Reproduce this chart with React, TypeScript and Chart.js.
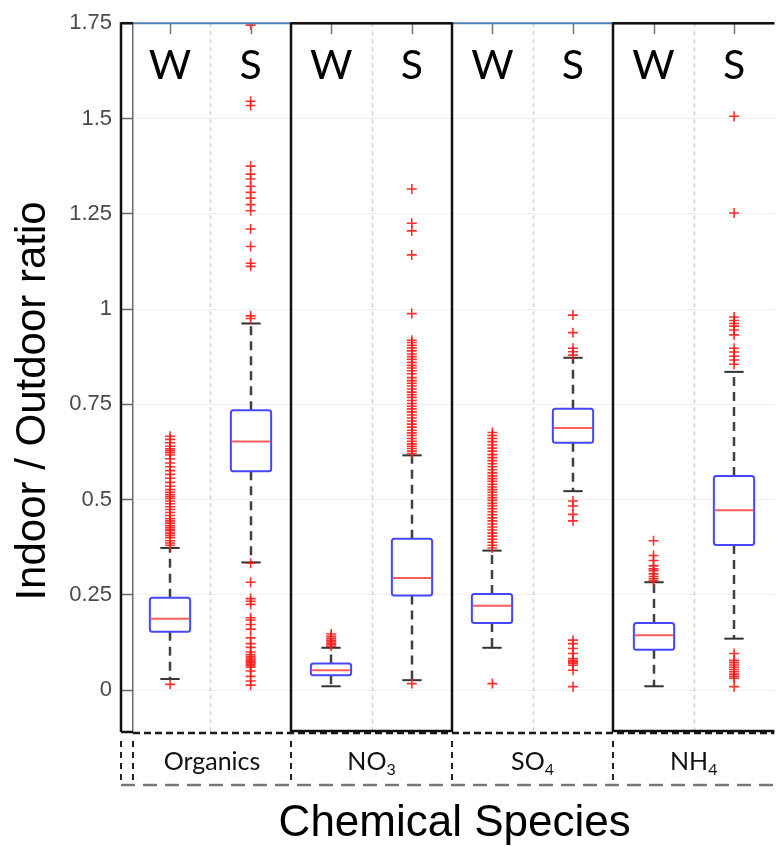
import React, { useEffect, useRef } from 'react';
import { Chart, registerables } from 'chart.js';

Chart.register(...registerables);

// ---------- data ----------
const speciesNames = ['Organics', 'NO', 'SO', 'NH'];
const speciesSubscripts = ['', '3', '4', '4'];
const seasons = ['W', 'S'];
const yTicks = [0, 0.25, 0.5, 0.75, 1, 1.25, 1.5, 1.75];

// order: Organics W, Organics S, NO3 W, NO3 S, SO4 W, SO4 S, NH4 W, NH4 S
const whiskerLow = [0.029, 0.335, 0.010, 0.026, 0.111, 0.522, 0.010, 0.135];
const q1 = [0.153, 0.574, 0.039, 0.248, 0.176, 0.649, 0.106, 0.381];
const medians = [0.187, 0.652, 0.052, 0.294, 0.221, 0.688, 0.144, 0.472];
const q3 = [0.242, 0.734, 0.070, 0.397, 0.252, 0.738, 0.176, 0.562];
const whiskerHigh = [0.373, 0.962, 0.111, 0.616, 0.366, 0.872, 0.283, 0.835];

const outOrgW = [0.015, 0.38, 0.386, 0.392, 0.4, 0.406, 0.412, 0.418, 0.422, 0.427, 0.432, 0.438, 0.444, 0.45, 0.458, 0.466, 0.474, 0.481, 0.489, 0.496, 0.503, 0.508, 0.513, 0.519, 0.526, 0.535, 0.545, 0.556, 0.566, 0.576, 0.586, 0.596, 0.607, 0.617, 0.623, 0.628, 0.633, 0.64, 0.649, 0.658, 0.666];
const outOrgS = [1.745, 1.545, 1.534, 1.375, 1.354, 1.341, 1.322, 1.306, 1.291, 1.274, 1.258, 1.21, 1.164, 1.12, 1.112, 0.982, 0.975, 0.333, 0.283, 0.24, 0.233, 0.225, 0.19, 0.184, 0.172, 0.16, 0.137, 0.122, 0.112, 0.1, 0.093, 0.088, 0.084, 0.08, 0.076, 0.072, 0.068, 0.064, 0.06, 0.05, 0.036, 0.024, 0.013];
const outNo3W = [0.115, 0.119, 0.123, 0.127, 0.131, 0.136, 0.141, 0.147];
const outNo3S = [1.315, 1.225, 1.205, 1.142, 0.988, 0.918, 0.912, 0.905, 0.898, 0.89, 0.882, 0.875, 0.868, 0.86, 0.852, 0.845, 0.838, 0.83, 0.82, 0.812, 0.805, 0.798, 0.79, 0.782, 0.775, 0.768, 0.76, 0.752, 0.745, 0.738, 0.73, 0.722, 0.714, 0.706, 0.698, 0.69, 0.682, 0.675, 0.668, 0.66, 0.653, 0.646, 0.64, 0.634, 0.627, 0.621, 0.017];
const outSo4W = [0.676, 0.668, 0.66, 0.652, 0.643, 0.635, 0.627, 0.618, 0.61, 0.602, 0.594, 0.586, 0.578, 0.57, 0.562, 0.555, 0.548, 0.54, 0.533, 0.526, 0.519, 0.512, 0.505, 0.498, 0.49, 0.483, 0.476, 0.468, 0.46, 0.452, 0.444, 0.436, 0.428, 0.42, 0.412, 0.404, 0.396, 0.388, 0.38, 0.373, 0.017];
const outSo4S = [0.984, 0.938, 0.897, 0.888, 0.879, 0.496, 0.483, 0.461, 0.444, 0.131, 0.122, 0.109, 0.096, 0.083, 0.078, 0.074, 0.07, 0.065, 0.052, 0.009];
const outNh4W = [0.392, 0.353, 0.34, 0.326, 0.318, 0.313, 0.305, 0.298, 0.292, 0.287];
const outNh4S = [1.506, 1.252, 0.979, 0.97, 0.962, 0.955, 0.945, 0.932, 0.897, 0.887, 0.876, 0.866, 0.855, 0.096, 0.078, 0.072, 0.066, 0.06, 0.054, 0.048, 0.042, 0.036, 0.031, 0.009];
const outliers = [outOrgW, outOrgS, outNo3W, outNo3S, outSo4W, outSo4S, outNh4W, outNh4S];

const yTitle = 'Indoor / Outdoor ratio';
const xTitle = 'Chemical Species';

// ---------- styles ----------
const BOX_HALF = 0.25;
const CAP_HALF = 0.12;
const X_MIN = 0.54;
const X_MAX = 8.5;
const Y_MIN = -0.11;
const Y_MAX = 1.75;

function line(ctx: CanvasRenderingContext2D, x1: number, y1: number, x2: number, y2: number) {
  ctx.beginPath();
  ctx.moveTo(x1, y1);
  ctx.lineTo(x2, y2);
  ctx.stroke();
}

const boxPlugin = {
  id: 'boxes',
  beforeDatasetsDraw(chart: any) {
    const { ctx, chartArea: a, scales } = chart;
    const x = scales.x;
    const y = scales.y;
    ctx.save();
    // dotted separators between W and S
    ctx.strokeStyle = '#cfcfcf';
    ctx.lineWidth = 1.5;
    ctx.setLineDash([4, 4]);
    speciesNames.forEach((_: string, s: number) => {
      const px = Math.round(x.getPixelForValue(s * 2 + 1.5)) + 0.5;
      line(ctx, px, a.top, px, a.bottom);
    });
    for (let i = 0; i < q1.length; i++) {
      const cx = Math.round(x.getPixelForValue(i + 1));
      const hw = x.getPixelForValue(i + 1 + BOX_HALF) - x.getPixelForValue(i + 1);
      const cw = x.getPixelForValue(i + 1 + CAP_HALF) - x.getPixelForValue(i + 1);
      const yLo = y.getPixelForValue(whiskerLow[i]);
      const yQ1 = y.getPixelForValue(q1[i]);
      const yMed = y.getPixelForValue(medians[i]);
      const yQ3 = y.getPixelForValue(q3[i]);
      const yHi = y.getPixelForValue(whiskerHigh[i]);
      // whiskers
      ctx.setLineDash([9, 6]);
      ctx.strokeStyle = '#404040';
      ctx.lineWidth = 2.5;
      line(ctx, cx, yQ3, cx, yHi);
      line(ctx, cx, yQ1, cx, yLo);
      ctx.setLineDash([]);
      ctx.lineWidth = 2;
      ctx.strokeStyle = '#333';
      line(ctx, cx - cw, yHi, cx + cw, yHi);
      line(ctx, cx - cw, yLo, cx + cw, yLo);
      // box
      ctx.beginPath();
      ctx.roundRect(cx - hw, yQ3, hw * 2, yQ1 - yQ3, 2.5);
      ctx.fillStyle = '#ffffff';
      ctx.fill();
      ctx.strokeStyle = '#4646ff';
      ctx.lineWidth = 2;
      ctx.stroke();
      // median
      ctx.strokeStyle = '#ff5c5c';
      ctx.lineWidth = 2;
      line(ctx, cx - hw + 1, yMed, cx + hw - 1, yMed);
    }
    ctx.restore();
  },
  afterDatasetsDraw(chart: any) {
    const { ctx, chartArea: a, scales } = chart;
    const x = scales.x;
    const L = a.left;
    const T = a.top;
    const B = a.bottom;
    const R = a.right;
    const OL = L - 12;
    const divs = [2.5, 4.5, 6.5].map((v) => Math.round(x.getPixelForValue(v)));
    ctx.save();
    // top ticks
    ctx.strokeStyle = '#777';
    ctx.lineWidth = 1.5;
    for (let i = 0; i < q1.length; i++) {
      const cx = Math.round(x.getPixelForValue(i + 1)) + 0.5;
      line(ctx, cx, T, cx, T + 11);
    }
    // top border (blue)
    ctx.strokeStyle = '#4d7fb8';
    ctx.lineWidth = 2;
    line(ctx, L, T, R, T);
    // bottom dashed
    ctx.setLineDash([7, 4]);
    ctx.strokeStyle = '#1a1a1a';
    ctx.lineWidth = 2.5;
    line(ctx, L, B + 1, R, B + 1);
    ctx.setLineDash([]);
    // black frames
    ctx.strokeStyle = '#111';
    ctx.lineWidth = 2.5;
    line(ctx, OL, T - 1, OL, B);
    line(ctx, OL, B, L, B);
    line(ctx, OL, T, L, T);
    divs.forEach((d) => line(ctx, d, T - 1, d, B));
    line(ctx, divs[0], T, divs[1], T);
    line(ctx, divs[0], B - 1, divs[1], B - 1);
    line(ctx, divs[2], T, R, T);
    line(ctx, divs[2], B - 1, R, B - 1);
    // W / S labels
    ctx.fillStyle = '#000';
    ctx.font = '41px Lato';
    ctx.textAlign = 'center';
    ctx.textBaseline = 'alphabetic';
    for (let i = 0; i < q1.length; i++) {
      const cx = x.getPixelForValue(i + 1);
      ctx.fillText(seasons[i % 2], cx, T + 56);
    }
    // category row
    const rowTop = B + 9;
    const rowBot = B + 53;
    ctx.strokeStyle = '#222';
    ctx.lineWidth = 2;
    ctx.setLineDash([6, 5]);
    [OL, L, ...divs].forEach((d) => line(ctx, d, rowTop, d, rowBot));
    ctx.strokeStyle = '#777';
    ctx.lineWidth = 2.5;
    ctx.setLineDash([14, 8]);
    line(ctx, OL, rowBot, R, rowBot);
    ctx.setLineDash([]);
    const bounds = [L, ...divs, R];
    ctx.fillStyle = '#111';
    speciesNames.forEach((name: string, s: number) => {
      const c = (bounds[s] + bounds[s + 1]) / 2;
      ctx.font = '25px Lato';
      const w1 = ctx.measureText(name).width;
      const sub = speciesSubscripts[s];
      ctx.font = '16px Lato';
      const w2 = sub ? ctx.measureText(sub).width : 0;
      const start = c - (w1 + w2) / 2;
      ctx.textAlign = 'left';
      ctx.font = '25px Lato';
      ctx.fillText(name, start, B + 38);
      if (sub) {
        ctx.font = '16px Lato';
        ctx.fillText(sub, start + w1, B + 43);
      }
    });
    // x title
    ctx.fillStyle = '#000';
    ctx.font = '44px "Liberation Sans"';
    ctx.textAlign = 'center';
    ctx.fillText(xTitle, (L + R) / 2 + 1, B + 104);
    // y title
    ctx.save();
    ctx.translate(45, 401);
    ctx.rotate(-Math.PI / 2);
    ctx.font = '42px "Liberation Sans"';
    ctx.textAlign = 'center';
    ctx.fillText(yTitle, 0, 0);
    ctx.restore();
    ctx.restore();
  },
};

export default function App() {
  const ref = useRef<HTMLCanvasElement | null>(null);
  useEffect(() => {
    if (!ref.current) return;
    const points: { x: number; y: number }[] = [];
    outliers.forEach((arr, i) => arr.forEach((v) => points.push({ x: i + 1, y: v })));
    const chart = new Chart(ref.current, {
      type: 'scatter',
      data: {
        datasets: [
          {
            data: points,
            pointStyle: 'cross',
            pointRadius: 5,
            pointBorderWidth: 1.6,
            pointBorderColor: 'rgba(255,25,25,0.9)',
            pointBackgroundColor: 'rgba(255,25,25,0.9)',
            showLine: false,
          },
        ],
      },
      options: {
        responsive: false,
        animation: false,
        devicePixelRatio: 1,
        events: [],
        layout: { padding: { left: 0, top: 20, right: 0, bottom: 114 } },
        plugins: { legend: { display: false }, tooltip: { enabled: false } },
        scales: {
          x: { type: 'linear', min: X_MIN, max: X_MAX, display: false },
          y: {
            type: 'linear',
            min: Y_MIN,
            max: Y_MAX,
            afterFit: (scale: any) => {
              scale.width = 133;
            },
            afterBuildTicks: (scale: any) => {
              scale.ticks = yTicks.map((v) => ({ value: v }));
            },
            ticks: {
              color: '#4a4a4a',
              font: { family: 'Liberation Sans', size: 22 },
              padding: 10,
              callback: (v: any) => String(v),
            },
            grid: {
              color: '#eeeeee',
              lineWidth: 1,
              tickLength: 11,
              tickColor: '#666',
              tickWidth: 1.5,
            },
            border: { display: true, color: '#5e6f80', width: 1.5 },
          },
        },
      },
      plugins: [boxPlugin],
    } as any);
    return () => chart.destroy();
  }, []);
  return (
    <div style={{ position: 'absolute', left: 0, top: 0, width: 781, height: 846, background: '#fff' }}>
      <canvas ref={ref} width={781} height={846} style={{ display: 'block' }} />
    </div>
  );
}
